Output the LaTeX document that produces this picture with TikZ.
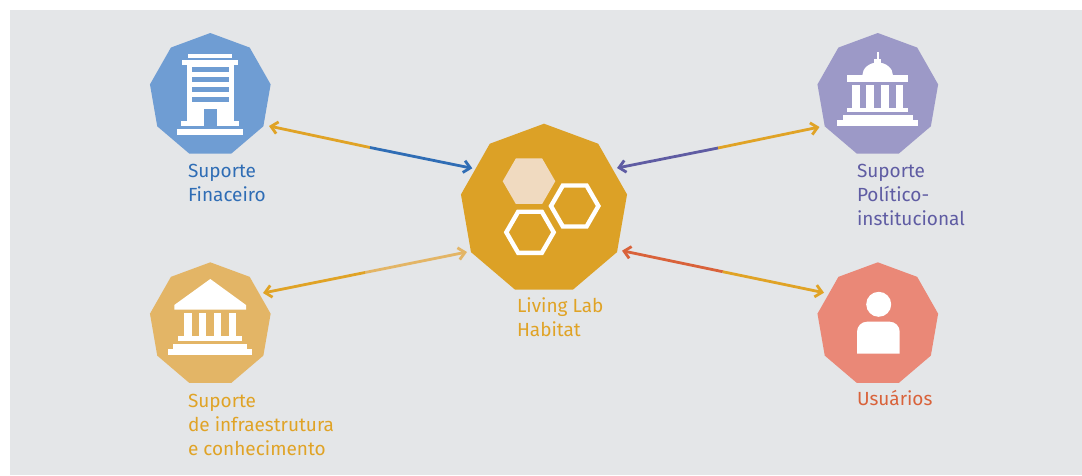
\documentclass[tikz,border=0pt]{standalone}
\usepackage{fontspec}
\setmainfont{Fira Sans}
\usetikzlibrary{arrows.meta,shapes.geometric}
\definecolor{bgc}{HTML}{E4E6E8}
\definecolor{bluefill}{HTML}{6F9DD3}
\definecolor{bluedark}{HTML}{2F6DB5}
\definecolor{hubfill}{HTML}{DCA126}
\definecolor{gold}{HTML}{E0A326}
\definecolor{tanfill}{HTML}{E3B566}
\definecolor{purplefill}{HTML}{9C99C7}
\definecolor{purpledark}{HTML}{5F5CA3}
\definecolor{salmon}{HTML}{EA8877}
\definecolor{rust}{HTML}{D9623A}
\definecolor{hexlight}{HTML}{F0DAC0}
\tikzset{
  nona/.style={regular polygon,regular polygon sides=9,inner sep=0pt,outer sep=0pt,minimum size=124.4pt,fill=#1,transform shape,xscale=.985},
  hexa/.style={regular polygon,regular polygon sides=6,inner sep=0pt,outer sep=0pt},
  lbl/.style={anchor=base west,inner sep=0pt,outer sep=0pt,font=\fontsize{19pt}{24pt}\selectfont,text=#1},
  link/.style={draw=#1,line width=2.8pt},
  tip/.style={-{Straight Barb[length=6.5pt,width=12pt,line width=2.8pt]}},
  icon/.style={fill=white,draw=none},
}
\begin{document}
\begin{tikzpicture}[x=1pt,y=-1pt]
\useasboundingbox (0,0) rectangle (1082,475);
\fill[white] (0,0) rectangle (1082,475);
\fill[bgc] (10,10) rectangle (1082,475);

% polygons
\node[nona=bluefill] (fin) at (210.3,95.2) {};
\node[nona=purplefill] (pol) at (877.8,95.2) {};
\node[nona=tanfill] (inf) at (210.3,324.5) {};
\node[nona=salmon] (usu) at (877.8,324.5) {};
\node[nona=hubfill,minimum size=171.2pt] (hub) at (544,209.3) {};

% hexagons
\node[hexa,fill=hexlight,minimum size=52.6pt] (hexa1) at (529,181.2) {};
\node[hexa,draw=white,line width=4.4pt,minimum size=47.4pt] (hexa2) at (574.7,206) {};
\node[hexa,draw=white,line width=4.4pt,minimum size=47.4pt] (hexa3) at (530,232.3) {};

% connector ends
\coordinate (finA) at (269,126);
\coordinate (finM) at (370,147.5);
\coordinate (finB) at (472.3,168.3);
\coordinate (polA) at (617,168);
\coordinate (polM) at (718,148);
\coordinate (polB) at (819.5,127);
\coordinate (infA) at (263,293);
\coordinate (infM) at (365,272.5);
\coordinate (infB) at (467,252);
\coordinate (usuA) at (622,250.7);
\coordinate (usuM) at (722.7,271.7);
\coordinate (usuB) at (824,292.7);

\draw[link=gold,tip] (finM) -- (finA);
\draw[link=bluedark,tip] (finM) -- (finB);
\draw[link=purpledark,tip] (polM) -- (polA);
\draw[link=gold,tip] (polM) -- (polB);
\draw[link=gold,tip] (infM) -- (infA);
\draw[link=tanfill,tip] (infM) -- (infB);
\draw[link=rust,tip] (usuM) -- (usuA);
\draw[link=gold,tip] (usuM) -- (usuB);

% building icon
\fill[icon] (188,54) rectangle (232,58);
\fill[icon] (182.3,60) rectangle (238.3,65);
\fill[icon] (186.7,65) rectangle (234.3,121.7);
\fill[icon] (181.3,121) rectangle (239.3,126);
\fill[icon] (177,129) rectangle (243,135);
\fill[bluefill] (192.3,66.7) rectangle (228.7,72);
\fill[bluefill] (192.3,77) rectangle (228.7,82.3);
\fill[bluefill] (192.3,87) rectangle (228.7,92.3);
\fill[bluefill] (192.3,97) rectangle (228.7,102.3);
\fill[bluefill] (204.3,109.3) rectangle (217,126);

% capitol icon
\fill[icon] (877,52.3) rectangle (878.7,60);
\fill[icon] (874.3,59.3) rectangle (881.3,64);
\fill[icon] (862.3,75.5) arc[start angle=180,end angle=360,x radius=15.35,y radius=13] -- cycle;
\fill[icon] (847,75.3) rectangle (908.3,82.3);
\fill[icon] (852.3,85) rectangle (859.7,107.7);
\fill[icon] (866,85) rectangle (874,107.7);
\fill[icon] (881,85) rectangle (888.7,107.7);
\fill[icon] (895.7,85) rectangle (903,107.7);
\fill[icon] (847,107.7) rectangle (908.3,112.3);
\fill[icon] (842.7,115.3) rectangle (913.3,120.2);
\fill[icon] (837.3,120) rectangle (918,125.7);

% temple icon
\fill[icon] (210.3,279) -- (246,305) -- (246,309.7) -- (174.3,309.7) -- (174.3,305) -- cycle;
\fill[icon] (184.3,313) rectangle (191.7,336.2);
\fill[icon] (199,313) rectangle (206.3,336.2);
\fill[icon] (214,313) rectangle (221.3,336.2);
\fill[icon] (229,313) rectangle (236.3,336.2);
\fill[icon] (178.3,336) rectangle (242,341);
\fill[icon] (173.3,344) rectangle (246.7,349);
\fill[icon] (168.3,348.7) rectangle (252,354.7);

% person icon
\fill[icon] (878.7,304.3) circle[radius=12.5];
\fill[icon] (857,353.7) -- (857,331.7) arc[start angle=180,end angle=270,radius=10] -- (889.7,321.7) arc[start angle=270,end angle=360,radius=10] -- (899.7,353.7) -- cycle;

% labels
\node[lbl=bluedark] (t1a) at (188,177) {Suporte};
\node[lbl=bluedark] (t1b) at (188,201) {Finaceiro};
\node[lbl=purpledark] (t2a) at (857,177) {Suporte};
\node[lbl=purpledark] (t2b) at (857,201) {Político-};
\node[lbl=purpledark] (t2c) at (857,225) {institucional};
\node[lbl=gold] (t3a) at (517,312) {Living Lab};
\node[lbl=gold] (t3b) at (517,336) {Habitat};
\node[lbl=gold] (t4a) at (188,407) {Suporte};
\node[lbl=gold] (t4b) at (188,431) {de infraestrutura};
\node[lbl=gold] (t4c) at (188,455) {e conhecimento};
\node[lbl=rust] (t5a) at (857,405) {Usuários};
\end{tikzpicture}
\end{document}
